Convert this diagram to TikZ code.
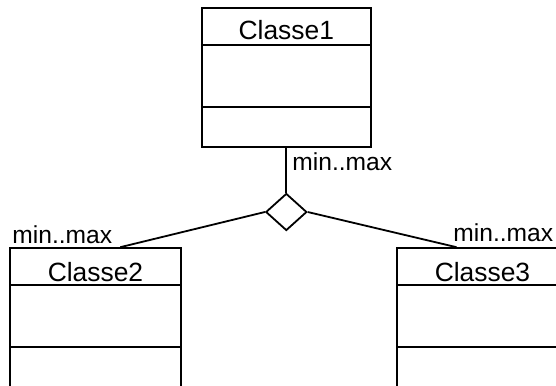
\documentclass[tikz,border=0pt]{standalone}
\usepackage{fontspec}
\setmainfont{Liberation Sans}
\usetikzlibrary{shapes.geometric, positioning, calc}
\tikzset{
  classe/.style={rectangle, draw, line width=1pt, minimum width=85.5pt,
    minimum height=69.3pt, inner sep=0pt},
  titre/.style={anchor=base, inner sep=0pt, font=\fontsize{13.2}{15}\selectfont},
  losange/.style={diamond, draw, line width=0.9pt, minimum width=20.5pt,
    minimum height=18.5pt, inner sep=0pt},
  card/.style={anchor=base west, inner sep=0pt, font=\fontsize{12.3}{14}\selectfont},
  lien/.style={line width=0.9pt}
}
\begin{document}
\begin{tikzpicture}[x=0.5pt, y=-0.5pt]
  \clip (0,0) rectangle (556,385);
  \fill[white] (0,0) rectangle (556,385);

  % Classes
  \node[classe, minimum width=84.5pt] (c1) at (286.3,77.5) {};
  \node[classe] (c2) at (95.5,317.5) {};
  \node[classe] (c3) at (482.5,317.5) {};
  \node[titre] (t1) at ($(c1.north)+(0,-16pt)$) {Classe1};
  \node[titre] (t2) at ($(c2.north)+(0,-17pt)$) {Classe2};
  \node[titre] (t3) at ($(c3.north)+(0,-17pt)$) {Classe3};
  \foreach \c in {c1,c2,c3} {
    \draw[line width=1pt] ($(\c.north west)+(0,-19pt)$) -- ($(\c.north east)+(0,-19pt)$);
    \draw[line width=1pt] ($(\c.north west)+(0,-50pt)$) -- ($(\c.north east)+(0,-50pt)$);
  }

  % Association n-aire
  \node[losange] (ass) at (286.3,212) {};
  \coordinate (a2) at ($(c2.north west)!0.643!(c2.north east)$);
  \coordinate (a3) at ($(c3.north west)!0.35!(c3.north east)$);
  \draw[lien] (c1.south) -- (ass.north);
  \draw[lien] (ass.west) -- (a2);
  \draw[lien] (ass.east) -- (a3);

  % Cardinalites
  \node[card] (m1) at (292,170) {min..max};
  \node[card] (m2) at (12,243) {min..max};
  \node[card] (m3) at (453,241) {min..max};
\end{tikzpicture}
\end{document}
